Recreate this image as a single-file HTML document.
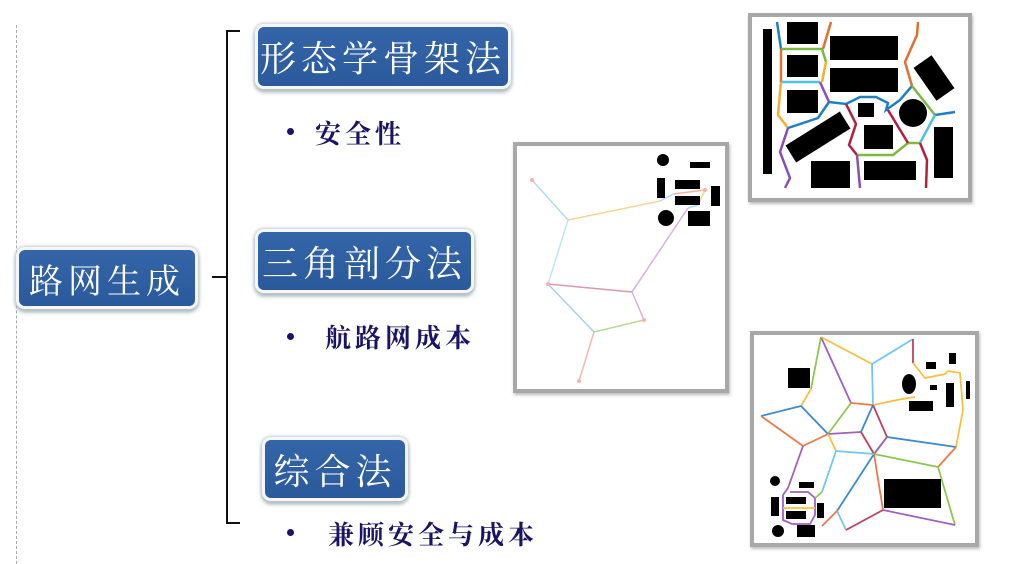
<!DOCTYPE html>
<html><head><meta charset="utf-8"><style>
body{margin:0;width:1024px;height:564px;background:#fff;position:relative;overflow:hidden;font-family:"Liberation Serif","Noto Serif CJK SC",serif}
.box{position:absolute;background:linear-gradient(#3465a8,#2a5a9c);border:3px solid #f4f6fa;border-radius:9px;box-shadow:0 0 3px 1px #c8ccd4, 0 3px 4px #9aa;color:#fff;box-sizing:border-box;display:flex;align-items:center;justify-content:center;letter-spacing:5px}
.bl{position:absolute;color:#1b1464;font-weight:bold;font-size:26px;letter-spacing:4px}
.dot{position:absolute;width:7px;height:7px;border-radius:50%;background:#1b1464}
.frame{position:absolute;border:4px solid #a8a8a8;background:#fff;box-sizing:border-box;box-shadow:1px 2px 3px #bbb}
</style></head><body>
<div style="position:absolute;left:16px;top:25px;height:539px;border-left:1px dashed #aaa"></div>
<div class="box" style="left:16px;top:247px;width:182px;height:62px;font-size:34px">路网生成</div>
<svg style="position:absolute;left:0;top:0" width="1024" height="564">
<path d="M240 31 H227 V523 H240 M212 277 H227" fill="none" stroke="#111" stroke-width="2"/>
</svg>
<div class="box" style="left:255px;top:24px;width:256px;height:65px;font-size:36px">形态学骨架法</div>
<div class="dot" style="left:287px;top:128px"></div><div class="bl" style="left:315px;top:114px">安全性</div>
<div class="box" style="left:255px;top:229px;width:219px;height:64px;font-size:36px">三角剖分法</div>
<div class="dot" style="left:287px;top:333px"></div><div class="bl" style="left:325px;top:318px">航路网成本</div>
<div class="box" style="left:262px;top:437px;width:146px;height:64px;font-size:36px">综合法</div>
<div class="dot" style="left:287px;top:529px"></div><div class="bl" style="left:328px;top:515px">兼顾安全与成本</div>

<div class="frame" style="left:513px;top:142px;width:216px;height:251px"></div>
<div class="frame" style="left:748px;top:13px;width:224px;height:189px"></div>
<div class="frame" style="left:750px;top:331px;width:229px;height:216px"></div>

<svg style="position:absolute;left:0;top:0" width="1024" height="564">
<g fill="none" stroke-width="1.5" opacity="0.8">
<path d="M532 180 L568 220" stroke="#9cd0ee"/>
<path d="M568 220 L660 201" stroke="#f6c97a"/>
<path d="M660 201 L673 194" stroke="#9cd0ee"/>
<path d="M673 194 L705 190" stroke="#f0a080"/>
<path d="M705 190 L698 205" stroke="#f6c97a"/>
<path d="M698 205 L688 208" stroke="#9cd0ee"/>
<path d="M688 208 L632 292 L644 320" stroke="#c9a0d8"/>
<path d="M568 220 L548 284" stroke="#b0dcf4"/>
<path d="M548 284 L632 292" stroke="#d08090"/>
<path d="M548 284 L594 332" stroke="#90c4e8"/>
<path d="M644 320 L594 332" stroke="#a8d080"/>
<path d="M594 332 L579 381" stroke="#f0a890"/>
</g>
<g fill="#f8b0b0"><circle cx="532" cy="180" r="2"/><circle cx="548" cy="284" r="2"/><circle cx="644" cy="320" r="2"/><circle cx="579" cy="381" r="2"/><circle cx="705" cy="190" r="2"/></g>
<g fill="#000"><circle cx="663" cy="160" r="6"/><rect x="690" y="162" width="20" height="6"/><rect x="657" y="178" width="8" height="20"/><rect x="675" y="180" width="25" height="9"/><rect x="675" y="196" width="25" height="9"/><rect x="711" y="186" width="9" height="20"/><circle cx="666" cy="218" r="8"/><rect x="688" y="211" width="22" height="15"/></g>

<g fill="#000">
<rect x="763" y="29" width="9" height="145"/>
<rect x="787" y="22" width="31" height="22"/><rect x="787" y="55" width="31" height="22"/><rect x="787" y="90" width="31" height="23"/>
<rect x="830" y="36" width="68" height="24"/><rect x="830" y="68" width="68" height="24"/>
<rect x="914" y="67" width="40" height="22" transform="rotate(55 934 78)"/>
<rect x="858" y="103" width="16" height="14"/><circle cx="913" cy="113" r="14"/>
<rect x="786" y="127" width="64" height="20" transform="rotate(-32 818 137)"/>
<rect x="864" y="125" width="29" height="24"/><rect x="934" y="127" width="19" height="51"/>
<rect x="811" y="161" width="39" height="27"/><rect x="864" y="161" width="52" height="19"/>
</g>
<g fill="none" stroke-width="2.5">
<path d="M777 22 L781 49" stroke="#1f7fc4"/>
<path d="M831 22 L823 49" stroke="#e07030"/>
<path d="M781 49 L822 49 L826 62" stroke="#7cb940"/>
<path d="M781 49 L781 82" stroke="#e07030"/>
<path d="M826 62 L822 82" stroke="#f0b030"/>
<path d="M781 82 L820 82" stroke="#4fc0ec"/>
<path d="M781 82 L778 115 L788 128" stroke="#f0b030"/>
<path d="M820 82 L829 102" stroke="#8a4fb0"/>
<path d="M829 102 L818 118 L788 128" stroke="#1f7fc4"/>
<path d="M829 102 L846 104 L860 97 L876 97 L888 103 L886 110 L900 100 L912 86" stroke="#1f7fc4"/>
<path d="M918 22 L917 35 L905 62 L912 86" stroke="#e07030"/>
<path d="M912 86 L935 115" stroke="#7cb940"/>
<path d="M935 115 L955 112" stroke="#1f7fc4"/>
<path d="M935 115 L920 143" stroke="#4fc0ec"/>
<path d="M788 128 L780 152 L790 178 L785 188" stroke="#8a4fb0"/>
<path d="M846 104 L856 124 L849 145 L857 155" stroke="#b0203f"/>
<path d="M857 155 L893 155 L908 143 L920 143" stroke="#7cb940"/>
<path d="M857 155 L860 188" stroke="#8a4fb0"/>
<path d="M888 110 L908 143 M920 143 L927 160 L926 188" stroke="#b0203f"/>
</g>

<g fill="none" stroke-width="1.8">
<path d="M821 337 L811 389" stroke="#8cc850"/>
<path d="M811 389 L801 406" stroke="#f6c040"/>
<path d="M801 406 L761 416" stroke="#3a8ad0"/>
<path d="M761 416 L803 446 L828 434" stroke="#f07848"/>
<path d="M801 406 L828 434" stroke="#3a8ad0"/>
<path d="M821 337 L851 403" stroke="#a060c0"/>
<path d="M851 403 L873 405" stroke="#f07848"/>
<path d="M821 337 L872 364" stroke="#f6c040"/>
<path d="M872 364 L873 405 M872 364 L913 339" stroke="#70c8f0"/>
<path d="M913 339 L913 363" stroke="#c04060"/>
<path d="M913 363 L925 378 L945 374 L948 371" stroke="#f6c040"/>
<path d="M873 405 L902 399 L915 397" stroke="#f6c040"/>
<path d="M948 371 L960 373 L963 410 L956 447" stroke="#f6c040"/>
<path d="M828 434 L851 403" stroke="#8cc850"/>
<path d="M828 434 L861 432" stroke="#a060c0"/>
<path d="M861 432 L873 405" stroke="#3a8ad0"/>
<path d="M873 405 L887 437 L874 454 L861 432" stroke="#c04060"/>
<path d="M887 437 L874 454" stroke="#a060c0"/>
<path d="M887 437 L956 447" stroke="#3a8ad0"/>
<path d="M874 454 L938 467" stroke="#8cc850"/>
<path d="M956 447 L938 467" stroke="#f07848"/>
<path d="M938 467 L955 525" stroke="#8cc850"/>
<path d="M883 510 L955 525" stroke="#a060c0"/>
<path d="M874 454 L883 510" stroke="#f07848"/>
<path d="M874 454 L837 511" stroke="#3a8ad0"/>
<path d="M837 511 L846 530" stroke="#70c8f0"/>
<path d="M846 530 L883 510" stroke="#c04060"/>
<path d="M828 434 L836 451" stroke="#f6c040"/>
<path d="M836 451 L874 454 M836 451 L822 492" stroke="#70c8f0"/>
<path d="M803 446 L788 488" stroke="#a060c0"/>
<path d="M822 526 L837 511" stroke="#f07848"/>
<path d="M788 488 L783 495 L783 520 L792 524 L810 524 L815 515 L815 498 L808 492 L790 492" stroke="#a060c0"/>
<path d="M822 492 L815 498" stroke="#8cc850"/>
<path d="M783 508 L815 508" stroke="#f6c040"/>
</g>
<g fill="#000">
<rect x="788" y="368" width="22" height="20"/><ellipse cx="909" cy="384" rx="7" ry="10"/>
<rect x="926" y="362" width="10" height="7"/><rect x="949" y="353" width="7" height="11"/>
<rect x="930" y="385" width="7" height="5"/><rect x="946" y="383" width="8" height="24"/>
<rect x="966" y="381" width="4" height="18"/><rect x="909" y="401" width="24" height="10"/>
<rect x="884" y="479" width="57" height="29"/><circle cx="775" cy="481" r="5"/>
<rect x="799" y="482" width="15" height="6"/><rect x="771" y="497" width="8" height="19"/>
<rect x="786" y="497" width="20" height="7"/><rect x="786" y="511" width="20" height="8"/>
<rect x="817" y="503" width="7" height="15"/><circle cx="778" cy="531" r="6"/>
<rect x="797" y="525" width="18" height="12"/>
</g>
</svg>
</body></html>
